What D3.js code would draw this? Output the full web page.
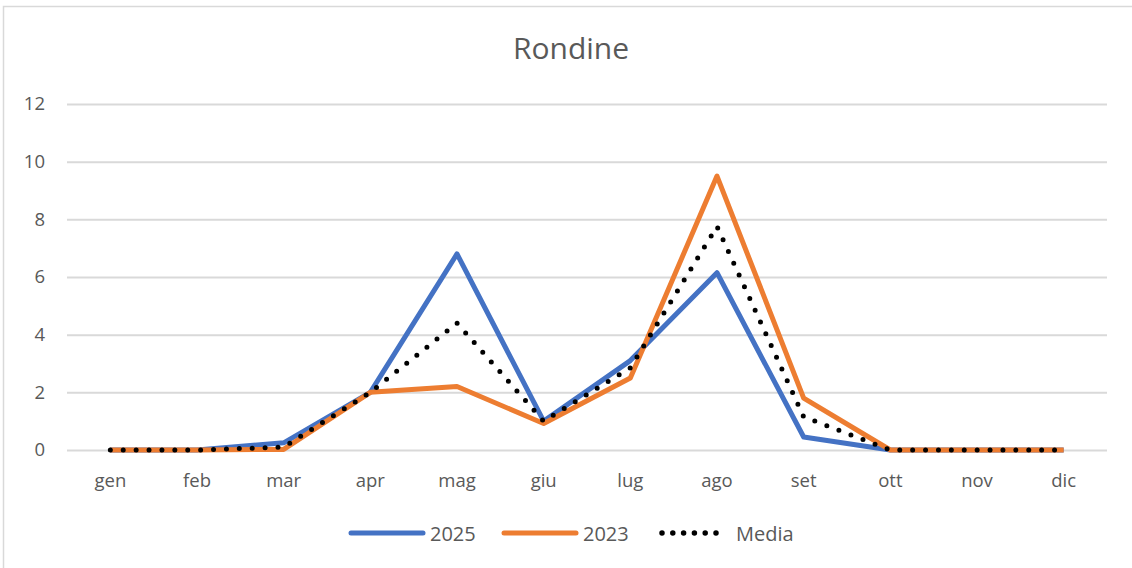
<!DOCTYPE html>
<html>
<head>
<meta charset="utf-8">
<script src="https://cdn.jsdelivr.net/npm/d3@7"></script>
<style>
  body { margin: 0; background: #fff; }
  text { font-family: "Open Sans", "Liberation Sans", sans-serif; fill: #595959; }
</style>
</head>
<body>
<svg id="chart" width="1132" height="568"></svg>
<script>
// Months and series
const months = ["gen", "feb", "mar", "apr", "mag", "giu", "lug", "ago", "set", "ott", "nov", "dic"];
const y2025 = [0, 0, 0.25, 2.0, 6.8, 1.0, 3.1, 6.15, 0.45, 0, 0, 0];
const y2023 = [0, 0, 0.02, 2.0, 2.2, 0.92, 2.5, 9.5, 1.8, 0, 0, 0];
const media = [0, 0, 0.1, 2.0, 4.4, 1.0, 2.85, 7.75, 1.15, 0, 0, 0];
const yTicks = [0, 2, 4, 6, 8, 10, 12];

const series = [
  {name: "2025", values: y2025, color: "#4472C4", dash: null},
  {name: "2023", values: y2023, color: "#ED7D31", dash: null},
  {name: "Media", values: media, color: "#000", dash: "0 12.9"}
];

const svg = d3.select("#chart");

// Outer chart border
svg.append("rect")
  .attr("x", 3.5).attr("y", 6.5)
  .attr("width", 1140).attr("height", 580)
  .attr("fill", "none")
  .attr("stroke", "#d9d9d9")
  .attr("stroke-width", 1.5);

const plot = {left: 67, right: 1107, top: 104, bottom: 450};

const x = d3.scaleBand()
  .domain(months)
  .range([plot.left, plot.right]);

const y = d3.scaleLinear()
  .domain([0, 12])
  .range([plot.bottom, plot.top]);

// Title
svg.append("text")
  .attr("x", 571).attr("y", 59)
  .attr("text-anchor", "middle")
  .attr("font-size", 30)
  .text("Rondine");

// Gridlines + y labels
const yAxis = d3.axisLeft(y).tickValues(yTicks)
  .tickSize(-(plot.right - plot.left)).tickPadding(22);
const gy = svg.append("g")
  .attr("transform", `translate(${plot.left},0)`)
  .call(yAxis);
gy.select(".domain").remove();
gy.selectAll(".tick line").attr("stroke", "#d9d9d9").attr("stroke-width", 2);
gy.selectAll(".tick text").attr("font-size", 18.5).attr("fill", "#595959");

// X labels
const xAxis = d3.axisBottom(x).tickSize(0).tickPadding(24);
const gx = svg.append("g")
  .attr("transform", `translate(0,${plot.bottom})`)
  .call(xAxis);
gx.select(".domain").remove();
gx.selectAll(".tick text").attr("font-size", 18.5).attr("fill", "#595959");

// Lines
const line = d3.line()
  .x((d, i) => x(months[i]) + x.bandwidth() / 2)
  .y(d => y(d));

series.forEach(s => {
  svg.append("path")
    .datum(s.values)
    .attr("fill", "none")
    .attr("stroke", s.color)
    .attr("stroke-width", 5)
    .attr("stroke-linejoin", "round")
    .attr("stroke-linecap", s.dash ? "round" : "butt")
    .attr("stroke-dasharray", s.dash)
    .attr("d", line);
});

// Legend
const legendX = [351, 504, 660];
const legend = svg.append("g");
series.forEach((s, i) => {
  const lx = legendX[i];
  legend.append("line")
    .attr("x1", lx + (s.dash ? 2 : 0)).attr("x2", s.dash ? lx + 66 : lx + 72)
    .attr("y1", 533).attr("y2", 533)
    .attr("stroke", s.color)
    .attr("stroke-width", s.dash ? 5.5 : 5)
    .attr("stroke-linecap", "round")
    .attr("stroke-dasharray", s.dash ? "0 10.8" : null);
  legend.append("text")
    .attr("x", s.dash ? lx + 76 : lx + 79)
    .attr("y", 541)
    .attr("font-size", 20)
    .text(s.name);
});
</script>
</body>
</html>
